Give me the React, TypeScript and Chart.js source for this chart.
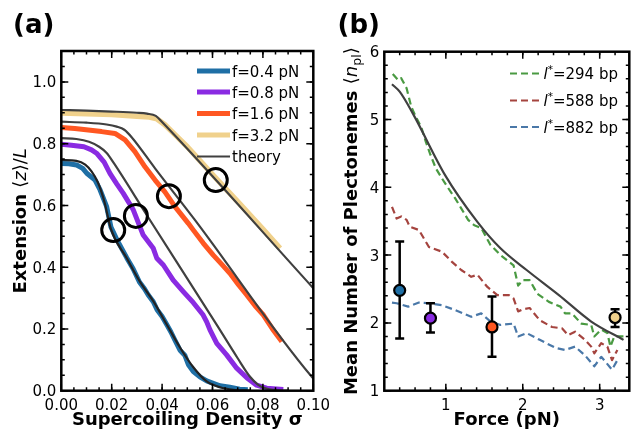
import React, { useEffect, useRef } from "react";
import { Chart, registerables } from "chart.js";

Chart.register(...registerables);

const FAMILY = '"DejaVu Sans", "Liberation Sans", sans-serif';

// ---------------- Panel (a): extension vs supercoiling density ----------------
const sig04 = [0, 0.003, 0.0061, 0.0085, 0.0101, 0.0134, 0.0154, 0.018, 0.0197, 0.022, 0.024, 0.026, 0.0285, 0.031, 0.033, 0.0345, 0.0365, 0.038, 0.04, 0.042, 0.0435, 0.045, 0.0471, 0.049, 0.0504, 0.0524, 0.055, 0.0577, 0.0603, 0.063, 0.0669, 0.0708, 0.074];
const ext04 = [0.736, 0.735, 0.731, 0.72, 0.704, 0.682, 0.65, 0.596, 0.53, 0.49, 0.46, 0.43, 0.395, 0.352, 0.33, 0.31, 0.288, 0.262, 0.24, 0.212, 0.19, 0.165, 0.131, 0.115, 0.085, 0.062, 0.045, 0.032, 0.024, 0.016, 0.011, 0.005, 0.003];

const sig08 = [0, 0.004, 0.009, 0.012, 0.014, 0.017, 0.0193, 0.022, 0.0246, 0.0286, 0.0325, 0.0365, 0.0379, 0.0405, 0.0444, 0.0484, 0.0524, 0.0563, 0.0577, 0.059, 0.0617, 0.0656, 0.0696, 0.0736, 0.0775, 0.0815, 0.0881];
const ext08 = [0.798, 0.795, 0.79, 0.78, 0.769, 0.74, 0.704, 0.67, 0.639, 0.585, 0.504, 0.461, 0.429, 0.407, 0.358, 0.321, 0.285, 0.245, 0.223, 0.197, 0.153, 0.116, 0.073, 0.042, 0.018, 0.008, 0.004];

const sig16 = [0, 0.0054, 0.0107, 0.016, 0.0213, 0.0253, 0.0292, 0.0332, 0.0372, 0.0411, 0.0451, 0.0504, 0.0524, 0.0563, 0.0603, 0.0636, 0.0669, 0.0703, 0.0736, 0.0769, 0.0802, 0.0838, 0.0875];
const ext16 = [0.852, 0.849, 0.844, 0.839, 0.833, 0.812, 0.774, 0.725, 0.682, 0.644, 0.596, 0.542, 0.52, 0.478, 0.439, 0.41, 0.38, 0.343, 0.31, 0.275, 0.245, 0.2, 0.159];

const sig32 = [0, 0.01, 0.02, 0.03, 0.035, 0.038, 0.041, 0.045, 0.05, 0.055, 0.06, 0.065, 0.07, 0.075, 0.08, 0.0868];
const ext32 = [0.899, 0.897, 0.894, 0.889, 0.886, 0.88, 0.862, 0.83, 0.79, 0.745, 0.7, 0.656, 0.612, 0.568, 0.523, 0.461];

const thSig04 = [0, 0.006, 0.0095, 0.012, 0.0145, 0.017, 0.0197, 0.026, 0.0312, 0.0365, 0.0418, 0.0471, 0.0524, 0.0577, 0.063, 0.0683, 0.075];
const thExt04 = [0.747, 0.744, 0.732, 0.71, 0.675, 0.615, 0.523, 0.429, 0.353, 0.29, 0.215, 0.14, 0.076, 0.03, 0.011, 0.003, 0];
const thSig08 = [0, 0.006, 0.011, 0.015, 0.018, 0.021, 0.0339, 0.0617, 0.07, 0.0749, 0.078, 0.081, 0.085, 0.09];
const thExt08 = [0.818, 0.815, 0.806, 0.79, 0.77, 0.735, 0.569, 0.213, 0.105, 0.045, 0.02, 0.008, 0.002, 0];
const thSig16 = [0, 0.01, 0.018, 0.022, 0.025, 0.028, 0.0372, 0.053, 0.0994, 0.1];
const thExt16 = [0.871, 0.868, 0.862, 0.855, 0.845, 0.82, 0.72, 0.553, 0.045, 0.04];
const thSig32 = [0, 0.01, 0.02, 0.03, 0.034, 0.0375, 0.04, 0.1];
const thExt32 = [0.909, 0.907, 0.904, 0.9, 0.897, 0.89, 0.87, 0.332];

const circleSig = [0.0206, 0.0296, 0.0427, 0.0613];
const circleExt = [0.52, 0.566, 0.63, 0.682];

const legendA = ["f=0.4 pN", "f=0.8 pN", "f=1.6 pN", "f=3.2 pN", "theory"];

// ---------------- Panel (b): plectoneme number vs force ----------------
const forceTheory = [0.3, 0.4, 0.57, 0.99, 1.41, 1.71, 2.05, 2.47, 2.89, 3.31];
const nplTheory = [5.52, 5.41, 5.09, 4.18, 3.49, 3.1, 2.78, 2.41, 2.02, 1.75];

const force294 = [0.31, 0.38, 0.42, 0.49, 0.55, 0.61, 0.68, 0.74, 0.8, 0.87, 0.95, 1.03, 1.12, 1.2, 1.29, 1.37, 1.46, 1.58, 1.71, 1.88, 1.94, 2.0, 2.09, 2.19, 2.34, 2.49, 2.55, 2.64, 2.76, 2.89, 2.93, 3.02, 3.1, 3.14, 3.19, 3.29, 3.36];
const npl294 = [5.67, 5.58, 5.61, 5.46, 5.19, 5.04, 4.89, 4.67, 4.48, 4.28, 4.13, 3.99, 3.84, 3.69, 3.52, 3.44, 3.4, 3.15, 3.0, 2.85, 2.55, 2.63, 2.63, 2.43, 2.31, 2.24, 2.14, 2.14, 1.99, 1.97, 1.8, 1.9, 1.85, 1.65, 1.8, 1.8, 1.8];

const force588 = [0.3, 0.36, 0.42, 0.49, 0.53, 0.65, 0.78, 0.95, 1.08, 1.2, 1.33, 1.41, 1.54, 1.67, 1.82, 1.88, 1.94, 2.0, 2.09, 2.22, 2.38, 2.51, 2.59, 2.68, 2.81, 2.89, 2.93, 3.02, 3.1, 3.16, 3.23];
const npl588 = [3.71, 3.54, 3.57, 3.52, 3.42, 3.37, 3.12, 3.05, 2.9, 2.78, 2.68, 2.71, 2.53, 2.41, 2.41, 2.36, 2.17, 2.2, 2.22, 2.04, 1.94, 1.92, 1.82, 1.87, 1.75, 1.65, 1.55, 1.7, 1.65, 1.45, 1.6];

const force882 = [0.3, 0.36, 0.51, 0.65, 0.78, 0.95, 1.12, 1.33, 1.46, 1.58, 1.71, 1.88, 1.94, 2.05, 2.22, 2.43, 2.55, 2.68, 2.81, 2.93, 3.02, 3.08, 3.16, 3.23];
const npl882 = [2.3, 2.29, 2.24, 2.3, 2.29, 2.26, 2.19, 2.09, 2.14, 2.02, 1.97, 1.99, 1.8, 1.85, 1.75, 1.63, 1.6, 1.65, 1.52, 1.36, 1.5, 1.42, 1.31, 1.45];

const expForce = [0.4, 0.8, 1.6, 3.2];
const expMean = [2.48, 2.07, 1.94, 2.08];
const expLow = [1.77, 1.86, 1.5, 1.94];
const expHigh = [3.2, 2.29, 2.39, 2.2];

const legendB = ["294", "588", "882"];

// ---------------- colours ----------------
const C04 = "#1f6fa5";
const C08 = "#8a2be2";
const C16 = "#ff5722";
const C32 = "#f0d18c";
const CTH = "#404040";
const CG = "#4a9a42";
const CR = "#a5443f";
const CB = "#4a78a8";

const pts = (xs: number[], ys: number[]) => xs.map((x, i) => ({ x, y: ys[i] }));

type Seg = { t: string; font: string; dy?: number };

function drawRich(ctx: CanvasRenderingContext2D, segs: Seg[], x: number, y: number, align: "left" | "center", rot = 0) {
  ctx.save();
  ctx.translate(x, y);
  ctx.rotate(rot);
  ctx.textAlign = "left";
  ctx.textBaseline = "alphabetic";
  ctx.fillStyle = "#000";
  const widths = segs.map((s) => {
    ctx.font = s.font;
    return ctx.measureText(s.t).width;
  });
  const total = widths.reduce((a, b) => a + b, 0);
  let cx = align === "center" ? -total / 2 : 0;
  segs.forEach((s, i) => {
    ctx.font = s.font;
    ctx.fillText(s.t, cx, s.dy || 0);
    cx += widths[i];
  });
  ctx.restore();
}

function minorValues(min: number, max: number, step: number) {
  const out: number[] = [];
  for (let k = Math.ceil(min / step - 1e-9); k * step <= max + 1e-9; k++) {
    const v = k * step;
    if (v > min + 1e-9 && v < max - 1e-9) out.push(v);
  }
  return out;
}

function drawFrame(chart: any, xMinor: number, yMinor: number, xDec: number, yDec: number) {
  const { ctx, chartArea } = chart;
  const { left, right, top, bottom } = chartArea;
  const xs = chart.scales.x;
  const ys = chart.scales.y;
  ctx.save();
  ctx.strokeStyle = "#000";
  ctx.lineCap = "butt";
  ctx.lineWidth = 1.5;
  const tickX = (v: number, len: number) => {
    const p = xs.getPixelForValue(v);
    ctx.beginPath();
    ctx.moveTo(p, bottom);
    ctx.lineTo(p, bottom - len);
    ctx.moveTo(p, top);
    ctx.lineTo(p, top + len);
    ctx.stroke();
  };
  const tickY = (v: number, len: number) => {
    const p = ys.getPixelForValue(v);
    ctx.beginPath();
    ctx.moveTo(left, p);
    ctx.lineTo(left + len, p);
    ctx.moveTo(right, p);
    ctx.lineTo(right - len, p);
    ctx.stroke();
  };
  minorValues(xs.min, xs.max, xMinor).forEach((v) => tickX(v, 3.5));
  minorValues(ys.min, ys.max, yMinor).forEach((v) => tickY(v, 3.5));
  xs.ticks.forEach((t: any) => tickX(t.value, 7));
  ys.ticks.forEach((t: any) => tickY(t.value, 7));
  ctx.lineWidth = 2.5;
  ctx.strokeRect(left, top, right - left, bottom - top);
  ctx.fillStyle = "#000";
  ctx.font = `15px ${FAMILY}`;
  ctx.textBaseline = "alphabetic";
  ctx.textAlign = "center";
  xs.ticks.forEach((t: any) => ctx.fillText(t.value.toFixed(xDec), xs.getPixelForValue(t.value), 410));
  ctx.textAlign = "right";
  ys.ticks.forEach((t: any) => ctx.fillText(t.value.toFixed(yDec), left - 5, ys.getPixelForValue(t.value) + 5.5));
  ctx.restore();
}

function axis(min: number, max: number, step: number, prop: "width" | "height", size: number) {
  return {
    type: "linear" as const,
    min,
    max,
    ticks: { stepSize: step, display: false, includeBounds: false, autoSkip: false },
    grid: { display: false, drawTicks: false, tickLength: 0 },
    border: { display: false },
    afterFit: (s: any) => {
      s[prop] = size;
    },
  };
}

const B18 = `bold 18px ${FAMILY}`;
const R18 = `18px ${FAMILY}`;
const I18 = `italic 18px ${FAMILY}`;
const R15 = `15px ${FAMILY}`;
const I15 = `italic 15px ${FAMILY}`;

export default function App() {
  const refA = useRef<HTMLCanvasElement>(null);
  const refB = useRef<HTMLCanvasElement>(null);

  useEffect(() => {
    const dataLine = (label: string, xs: number[], ys: number[], color: string, width: number, order: number, extra: any = {}) => ({
      label,
      data: pts(xs, ys),
      showLine: true,
      borderColor: color,
      backgroundColor: color,
      borderWidth: width,
      pointRadius: 0,
      pointHoverRadius: 0,
      borderJoinStyle: "round",
      order,
      ...extra,
    });

    const pluginA = {
      id: "panelA",
      afterDraw(chart: any) {
        const ctx = chart.ctx as CanvasRenderingContext2D;
        const a = chart.chartArea;
        drawFrame(chart, 0.005, 0.05, 2, 1);
        drawRich(ctx, [{ t: "(a)", font: `bold 26px ${FAMILY}` }], 13, 32.5, "left");
        drawRich(ctx, [{ t: "Supercoiling Density σ", font: B18 }], (a.left + a.right) / 2, 424.5, "center");
        drawRich(
          ctx,
          [
            { t: "Extension ", font: B18 },
            { t: "⟨", font: R18 },
            { t: "z", font: I18 },
            { t: "⟩/", font: R18 },
            { t: "L", font: I18 },
          ],
          26,
          (a.top + a.bottom) / 2,
          "center",
          -Math.PI / 2
        );
        const colors = [C04, C08, C16, C32, CTH];
        const widths = [5, 5, 5, 5, 2.2];
        const rows = [71, 92, 113.5, 135, 156.5];
        ctx.save();
        legendA.forEach((lab, i) => {
          ctx.strokeStyle = colors[i];
          ctx.lineWidth = widths[i];
          ctx.lineCap = "butt";
          ctx.beginPath();
          ctx.moveTo(197, rows[i]);
          ctx.lineTo(230, rows[i]);
          ctx.stroke();
          drawRich(ctx, [{ t: lab, font: R15 }], 232, rows[i] + 5.5, "left");
        });
        ctx.restore();
      },
    };

    const chartA = new Chart(refA.current!, {
      type: "scatter",
      data: {
        datasets: [
          {
            label: "circles",
            data: pts(circleSig, circleExt),
            showLine: false,
            pointRadius: 11.5,
            pointHoverRadius: 11.5,
            pointBorderWidth: 3,
            pointBorderColor: "#000",
            pointBackgroundColor: "rgba(0,0,0,0)",
            order: 0,
          },
          dataLine("theory 0.4", thSig04, thExt04, "#222222", 2.2, 1, { cubicInterpolationMode: "monotone" }),
          dataLine("theory 0.8", thSig08, thExt08, CTH, 2.2, 1, { cubicInterpolationMode: "monotone" }),
          dataLine("theory 1.6", thSig16, thExt16, CTH, 2.2, 1, { cubicInterpolationMode: "monotone" }),
          dataLine("theory 3.2", thSig32, thExt32, CTH, 2.2, 1, { cubicInterpolationMode: "monotone" }),
          dataLine(legendA[0], sig04, ext04, C04, 5, 2),
          dataLine(legendA[1], sig08, ext08, C08, 5, 2),
          dataLine(legendA[2], sig16, ext16, C16, 5, 2),
          dataLine(legendA[3], sig32, ext32, C32, 5.5, 2),
        ] as any,
      },
      options: {
        animation: false,
        responsive: false,
        maintainAspectRatio: false,
        devicePixelRatio: 1,
        layout: { padding: { left: 0, right: 16.7, top: 51, bottom: 0 } },
        plugins: { legend: { display: false }, tooltip: { enabled: false }, title: { display: false } },
        scales: {
          x: axis(0, 0.1, 0.02, "height", 39.3),
          y: axis(0, 1.1, 0.2, "width", 61.3),
        } as any,
      },
      plugins: [pluginA],
    });

    const pluginB = {
      id: "panelB",
      afterDraw(chart: any) {
        const ctx = chart.ctx as CanvasRenderingContext2D;
        const a = chart.chartArea;
        drawFrame(chart, 0.2, 0.2, 0, 0);
        drawRich(ctx, [{ t: "(b)", font: `bold 26px ${FAMILY}` }], 7.5, 32.5, "left");
        drawRich(ctx, [{ t: "Force (pN)", font: B18 }], (a.left + a.right) / 2, 424.5, "center");
        drawRich(
          ctx,
          [
            { t: "Mean Number of Plectonemes ", font: B18 },
            { t: "⟨", font: R18 },
            { t: "n", font: I18 },
            { t: "pl", font: `12.5px ${FAMILY}`, dy: 4 },
            { t: "⟩", font: R18 },
          ],
          26.5,
          (a.top + a.bottom) / 2,
          "center",
          -Math.PI / 2
        );
        const colors = [CG, CR, CB];
        const rows = [73.5, 100.5, 127];
        ctx.save();
        legendB.forEach((lab, i) => {
          ctx.strokeStyle = colors[i];
          ctx.lineWidth = 2.2;
          ctx.lineCap = "butt";
          ctx.setLineDash([7, 4]);
          ctx.beginPath();
          ctx.moveTo(180, rows[i]);
          ctx.lineTo(211, rows[i]);
          ctx.stroke();
          ctx.setLineDash([]);
          drawRich(
            ctx,
            [
              { t: "l", font: I15 },
              { t: "*", font: `10.5px ${FAMILY}`, dy: -6 },
              { t: `=${lab} bp`, font: R15 },
            ],
            213.5,
            rows[i] + 5.5,
            "left"
          );
        });
        ctx.restore();
      },
    };

    const errDatasets = expForce.map((f, i) => ({
      label: `err ${f}`,
      data: [
        { x: f, y: expLow[i] },
        { x: f, y: expHigh[i] },
      ],
      showLine: true,
      borderColor: "#000",
      borderWidth: 2.5,
      pointStyle: "line",
      pointRadius: 4.5,
      pointHoverRadius: 4.5,
      pointBorderColor: "#000",
      pointBorderWidth: 2.5,
      order: 1,
    }));

    const chartB = new Chart(refB.current!, {
      type: "scatter",
      data: {
        datasets: [
          {
            label: "experiment",
            data: pts(expForce, expMean),
            showLine: false,
            pointRadius: 5.5,
            pointHoverRadius: 5.5,
            pointBorderWidth: 2.2,
            pointBorderColor: "#000",
            pointBackgroundColor: [C04, C08, C16, C32],
            order: 0,
          },
          ...errDatasets,
          dataLine("theory", forceTheory, nplTheory, CTH, 2.2, 2, { cubicInterpolationMode: "monotone" }),
          dataLine("l*=294 bp", force294, npl294, CG, 2.2, 3, { borderDash: [7, 4] }),
          dataLine("l*=588 bp", force588, npl588, CR, 2.2, 3, { borderDash: [7, 4] }),
          dataLine("l*=882 bp", force882, npl882, CB, 2.2, 3, { borderDash: [7, 4] }),
        ] as any,
      },
      options: {
        animation: false,
        responsive: false,
        maintainAspectRatio: false,
        devicePixelRatio: 1,
        layout: { padding: { left: 0, right: 1.3, top: 51.7, bottom: 0 } },
        plugins: { legend: { display: false }, tooltip: { enabled: false }, title: { display: false } },
        scales: {
          x: axis(0.2, 3.385, 1, "height", 39.3),
          y: axis(1, 6, 1, "width", 54.3),
        } as any,
      },
      plugins: [pluginB],
    });

    return () => {
      chartA.destroy();
      chartB.destroy();
    };
  }, []);

  return (
    <div style={{ position: "fixed", left: 0, top: 0, width: 637, height: 430, background: "#fff", overflow: "hidden" }}>
      <canvas ref={refA} width={330} height={430} style={{ position: "absolute", left: 0, top: 0, display: "block" }} />
      <canvas ref={refB} width={307} height={430} style={{ position: "absolute", left: 330, top: 0, display: "block" }} />
    </div>
  );
}
